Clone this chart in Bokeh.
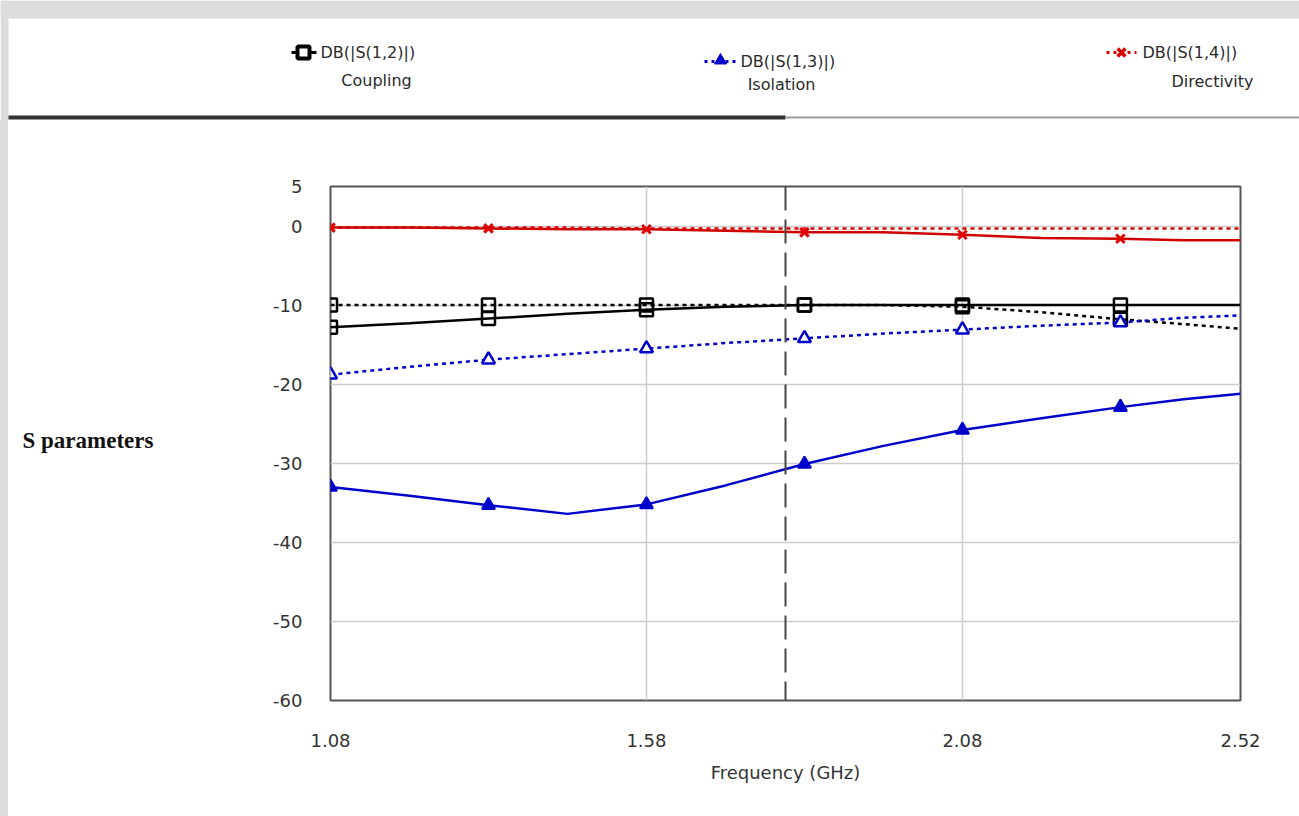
from bokeh.plotting import figure
from bokeh.layouts import column, row
from bokeh.models import Range1d, FixedTicker, Span, Label, Div
from bokeh.core.properties import value
from bokeh.embed import file_html
from bokeh.resources import INLINE

# ---------------- data ----------------
freq = [1.08, 1.205, 1.33, 1.455, 1.58, 1.705, 1.83, 1.955, 2.08, 2.205, 2.33, 2.43, 2.52]
s12_meas = [-12.8, -12.3, -11.7, -11.1, -10.6, -10.2, -10.0, -10.0, -10.0, -10.0, -10.0, -10.0, -10.0]
s12_sim = [-10.0, -10.0, -10.0, -10.0, -10.0, -10.0, -10.0, -10.0, -10.2, -10.9, -11.8, -12.4, -13.0]
s13_meas = [-33.0, -34.1, -35.3, -36.4, -35.2, -32.8, -30.1, -27.8, -25.8, -24.3, -22.9, -21.9, -21.2]
s13_sim = [-18.8, -17.8, -16.9, -16.2, -15.5, -14.8, -14.2, -13.6, -13.1, -12.6, -12.2, -11.6, -11.3]
s14_meas = [-0.2, -0.2, -0.3, -0.4, -0.4, -0.6, -0.8, -0.8, -1.1, -1.5, -1.6, -1.8, -1.8]
s14_sim = [-0.2, -0.2, -0.2, -0.2, -0.3, -0.3, -0.3, -0.3, -0.3, -0.3, -0.3, -0.3, -0.3]
marker_step = 2
x_ticks = [1.08, 1.58, 2.08, 2.52]
x_tick_labels = ["1.08", "1.58", "2.08", "2.52"]
y_ticks = [5, 0, -10, -20, -30, -40, -50, -60]
y_tick_labels = ["5", "0", "-10", "-20", "-30", "-40", "-50", "-60"]
marker_freq_line = 1.80
y_title_pos = -27.1

FONT = "DejaVu Sans"

# ---------------- header (legend) ----------------
hdr = figure(width=1299, height=120, x_range=Range1d(0, 1299), y_range=Range1d(120, 0),
             output_backend="svg", toolbar_location=None, min_border=0)
hdr.axis.visible = False
hdr.grid.visible = False
hdr.outline_line_color = None
hdr.background_fill_color = "white"
hdr.border_fill_color = "white"
hdr.quad(left=[0], right=[1299], top=[0], bottom=[18], fill_color="#dcdcdc", line_color=None)
hdr.quad(left=[0], right=[8], top=[0], bottom=[120], fill_color="#dcdcdc", line_color=None)

# legend items
hdr.line([291, 316], [52, 52], line_color="black", line_width=3)
hdr.scatter([303], [52], marker="square", size=12, fill_color="white", line_color="black", line_width=4)
hdr.line([704, 736], [61, 61], line_color="#0000cc", line_width=3, line_dash="3 4")
hdr.scatter([720], [60], marker="triangle", size=12, fill_color="#0000cc", line_color="#0000cc")
hdr.line([1106, 1136], [52, 52], line_color="#dd0000", line_width=3, line_dash="3 4")
hdr.scatter([1121], [52], marker="x", size=11, line_color="#dd0000", line_width=3.5)

hdr.text(x=[320, 740, 1142], y=[52, 61, 52], text=["DB(|S(1,2)|)", "DB(|S(1,3)|)", "DB(|S(1,4)|)"],
         text_font=value(FONT), text_font_size="16px", text_color="#2a2a2a", text_baseline="middle",
         text_align="left")
hdr.text(x=[376, 781, 1212], y=[80, 84, 81], text=["Coupling", "Isolation", "Directivity"],
         text_font=value(FONT), text_font_size="16px", text_color="#2a2a2a", text_baseline="middle",
         text_align="center")
hdr.line([8, 785], [117, 117], line_color="#333333", line_width=4)
hdr.line([785, 1299], [117, 117], line_color="#9a9a9a", line_width=2)

# ---------------- left side (y title) ----------------
strip = Div(text="", width=8, height=696, margin=0, styles={"background-color": "#dcdcdc"})

left = figure(width=192, height=696, x_range=Range1d(0, 192), y_range=Range1d(-60, 5),
              output_backend="svg", toolbar_location=None,
              min_border_left=0, min_border_right=0, min_border_top=66, min_border_bottom=116)
left.axis.visible = False
left.grid.visible = False
left.outline_line_color = None
left.background_fill_color = "white"
left.border_fill_color = "white"
left.text(x=[14], y=[y_title_pos], text=["S parameters"], text_font=value("Liberation Serif"),
          text_font_style="bold", text_font_size="23px", text_color="#111111",
          text_baseline="middle", text_align="left")

# ---------------- main plot ----------------
p = figure(width=1099, height=696, x_range=Range1d(1.08, 2.52), y_range=Range1d(-60, 5),
           output_backend="svg", toolbar_location=None,
           min_border_left=130, min_border_right=59, min_border_top=66, min_border_bottom=116)
p.background_fill_color = "white"
p.border_fill_color = "white"
p.outline_line_color = "#555555"
p.outline_line_width = 2

p.xaxis.ticker = FixedTicker(ticks=x_ticks)
p.yaxis.ticker = FixedTicker(ticks=y_ticks)
p.xaxis.major_label_overrides = dict(zip(x_ticks, x_tick_labels))
p.yaxis.major_label_overrides = dict(zip(y_ticks, y_tick_labels))
for ax in (p.xaxis[0], p.yaxis[0]):
    ax.axis_line_color = None
    ax.major_tick_line_color = None
    ax.minor_tick_line_color = None
    ax.major_tick_out = 0
    ax.major_tick_in = 0
    ax.minor_tick_out = 0
    ax.major_label_text_font = FONT
    ax.major_label_text_font_size = "18px"
    ax.major_label_text_color = "#333333"
p.xaxis.major_label_standoff = 33
p.yaxis.major_label_standoff = 28
p.xaxis.axis_label = "Frequency (GHz)"
p.xaxis.axis_label_text_font = FONT
p.xaxis.axis_label_text_font_size = "18px"
p.xaxis.axis_label_text_font_style = "normal"
p.xaxis.axis_label_text_color = "#333333"
p.xaxis.axis_label_standoff = 12

p.xgrid.ticker = FixedTicker(ticks=[1.58, 2.08])
p.ygrid.ticker = FixedTicker(ticks=[0, -10, -20, -30, -40, -50])
p.grid.grid_line_color = "#cccccc"
p.grid.grid_line_width = 1.5

# dashed marker line
p.add_layout(Span(location=marker_freq_line, dimension="height", line_color="#444444",
                  line_width=2, line_dash="24 9"))

mf = freq[0:11:marker_step]

# red (directivity)
p.line(freq, s14_sim, line_color="#e00000", line_width=2.5, line_dash="4 4")
p.line(freq, s14_meas, line_color="#d00000", line_width=2.5)
p.scatter(mf, s14_meas[0:11:marker_step], marker="x", size=12, line_color="#e00000", line_width=3)

# black (coupling)
p.line(freq, s12_sim, line_color="black", line_width=2.5, line_dash="4 4")
p.line(freq, s12_meas, line_color="black", line_width=2.5)
p.scatter(mf, s12_sim[0:11:marker_step], marker="square", size=13, fill_color="white",
          fill_alpha=0, line_color="black", line_width=2.5)
p.scatter(mf, s12_meas[0:11:marker_step], marker="square", size=13, fill_color="white",
          fill_alpha=0, line_color="black", line_width=2.5)

# blue (isolation)
p.line(freq, s13_sim, line_color="#0000cc", line_width=2.5, line_dash="4 4")
p.line(freq, s13_meas, line_color="#0000cc", line_width=2.5)
p.scatter(mf, s13_sim[0:11:marker_step], marker="triangle", size=13, fill_color="white",
          line_color="#0000cc", line_width=2.5)
p.scatter(mf, s13_meas[0:11:marker_step], marker="triangle", size=13, fill_color="#0000cc",
          line_color="#0000cc", line_width=2)

p.add_layout(Label(x=marker_freq_line, y=-61.5, text="1.8GHz", text_font=FONT, text_font_size="5px",
                   text_color="#888888", text_baseline="middle", text_align="center"))

layout = column(hdr, row(strip, left, p))
open("out.html", "w").write(file_html(layout, INLINE))
